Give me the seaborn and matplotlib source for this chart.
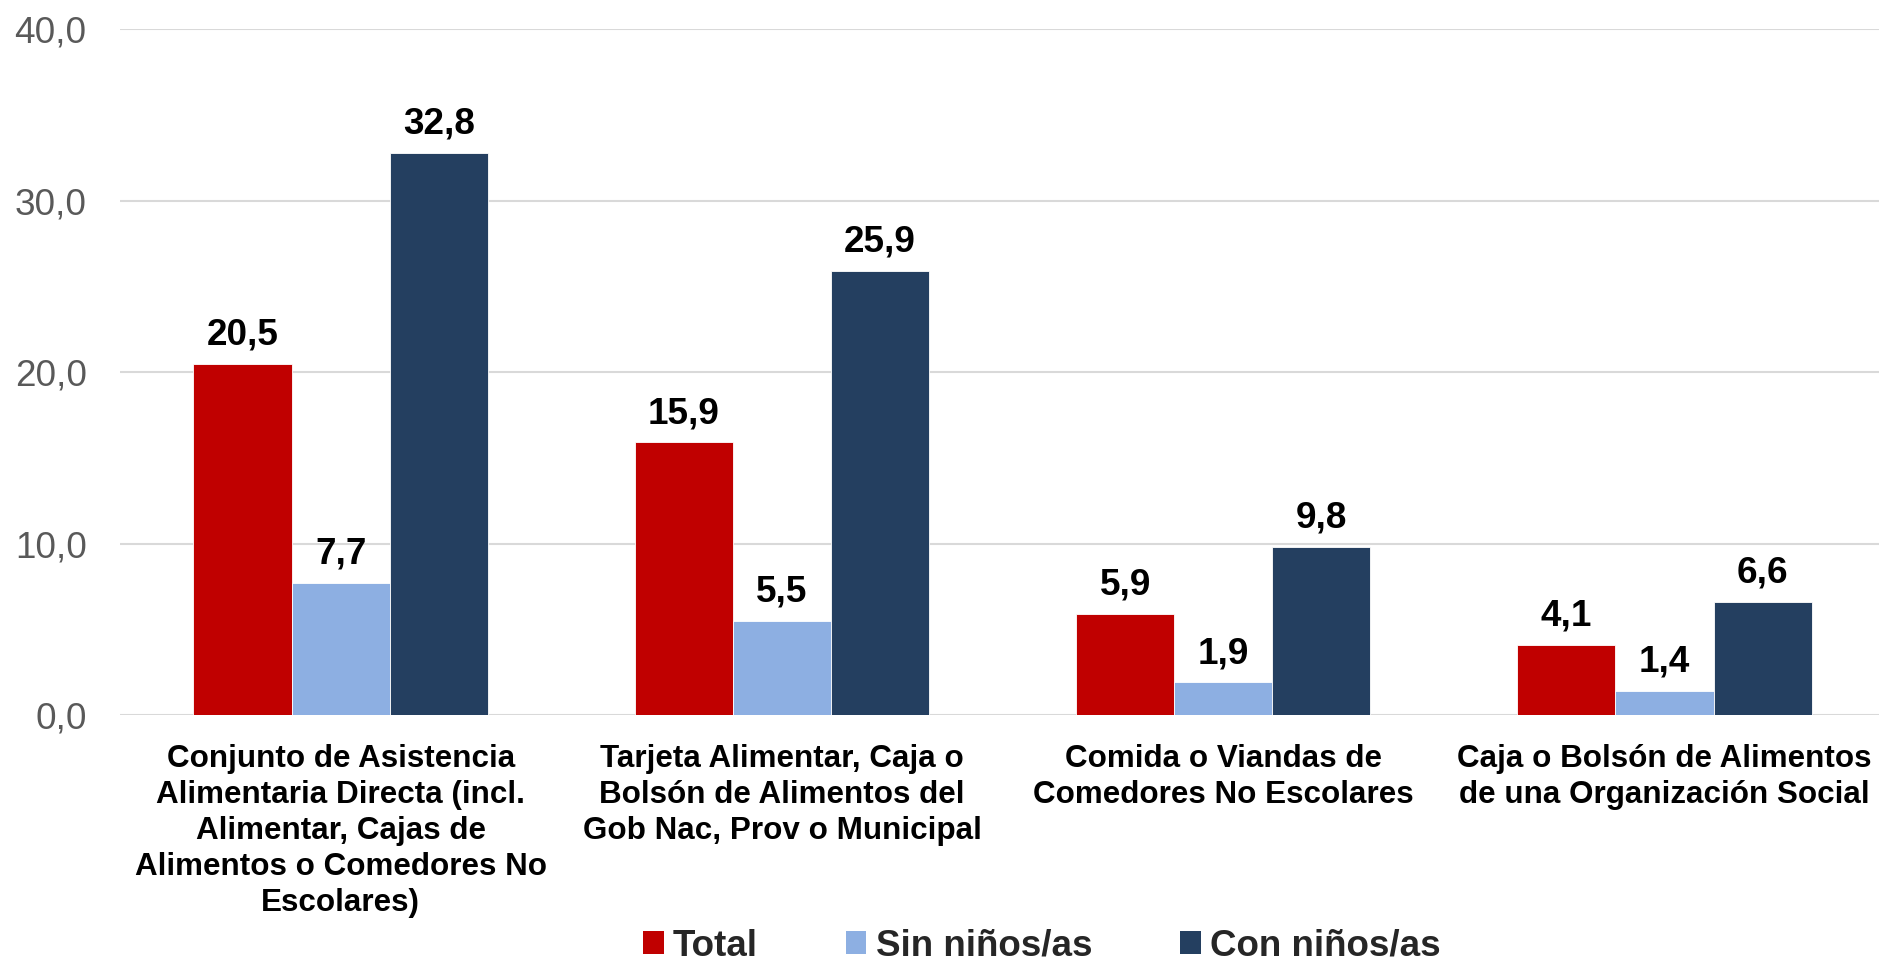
import matplotlib
matplotlib.use("Agg")
import matplotlib.pyplot as plt
import seaborn as sns
import pandas as pd
from matplotlib.patches import Patch

categories = [
    "Conjunto de Asistencia\nAlimentaria Directa (incl.\nAlimentar, Cajas de\nAlimentos o Comedores No\nEscolares)",
    "Tarjeta Alimentar, Caja o\nBolsón de Alimentos del\nGob Nac, Prov o Municipal",
    "Comida o Viandas de\nComedores No Escolares",
    "Caja o Bolsón de Alimentos\nde una Organización Social",
]
series = ["Total", "Sin niños/as", "Con niños/as"]
total = [20.5, 15.9, 5.9, 4.1]
sin_ninos = [7.7, 5.5, 1.9, 1.4]
con_ninos = [32.8, 25.9, 9.8, 6.6]
y_ticks = [0, 10, 20, 30, 40]

colors = ["#C00000", "#8DAFE2", "#243F60"]

df = pd.DataFrame({
    "categoria": categories * 3,
    "grupo": [series[0]] * 4 + [series[1]] * 4 + [series[2]] * 4,
    "valor": total + sin_ninos + con_ninos,
})

sns.set_theme(style="white")
plt.rcParams["font.family"] = ["Liberation Sans", "DejaVu Sans"]

fig = plt.figure(figsize=(18.79, 9.67), dpi=100)
ax = fig.add_axes([120 / 1879, 1 - 715 / 967, 1759 / 1879, (715 - 29.3) / 967])

sns.barplot(data=df, x="categoria", y="valor", hue="grupo", order=categories,
            hue_order=series, palette=colors, saturation=1, width=0.667, gap=0,
            edgecolor="white", linewidth=0.6, legend=False, ax=ax)

ax.set_xlim(-0.5, 3.486)
ax.set_ylim(0, 40)
ax.set_yticks(y_ticks)
ax.set_yticklabels([f"{v:.1f}".replace(".", ",") for v in y_ticks])
ax.set_xlabel("")
ax.set_ylabel("")

ax.grid(axis="y", color="#D9D9D9", linewidth=1.5)
ax.grid(axis="x", visible=False)
ax.set_axisbelow(True)
for s in ax.spines.values():
    s.set_visible(False)

ax.tick_params(axis="y", length=0, pad=24, labelsize=26.6, labelcolor="#595959")
ax.tick_params(axis="x", length=0, pad=21)
for lbl in ax.get_xticklabels():
    lbl.set_fontsize(22.6)
    lbl.set_fontweight("bold")
    lbl.set_color("black")
    lbl.set_linespacing(1.26)

for cont in ax.containers:
    vals = [b.get_height() for b in cont]
    ax.bar_label(cont, labels=[f"{v:.1f}".replace(".", ",") for v in vals],
                 padding=8, fontsize=26.6, fontweight="bold", color="black")

handles = [Patch(facecolor=c, edgecolor="none") for c in colors]
fig.legend(handles, series, loc="center", bbox_to_anchor=(1042 / 1879, 1 - 946 / 967),
           ncol=3, frameon=False, handlelength=0.55, handleheight=0.55,
           handletextpad=0.25, columnspacing=2.4,
           prop={"size": 26.5, "weight": "bold"})

fig.savefig("out.png", dpi=100)
